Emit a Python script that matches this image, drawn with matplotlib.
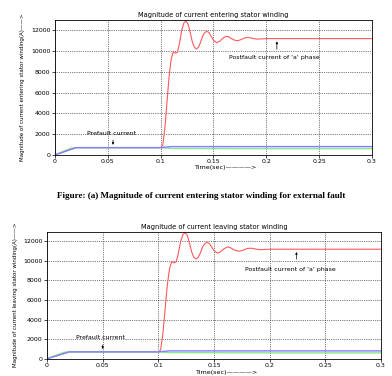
import matplotlib
matplotlib.use("Agg")
import matplotlib.pyplot as plt

# ---- data ----
t_red = [0, 0.02, 0.1, 0.102, 0.104, 0.106, 0.108, 0.110, 0.112, 0.114, 0.116, 0.118,
         0.120, 0.122, 0.124, 0.126, 0.128, 0.130, 0.132, 0.134, 0.136, 0.138, 0.140,
         0.142, 0.144, 0.146, 0.148, 0.150, 0.153, 0.156, 0.159, 0.162, 0.164, 0.167,
         0.170, 0.173, 0.176, 0.180, 0.184, 0.188, 0.192, 0.196, 0.2, 0.25, 0.3]
i_red = [0, 700, 700, 900, 2500, 5000, 7500, 9200, 9950, 9800, 9900, 10800,
         12000, 12700, 12900, 12600, 11800, 10900, 10350, 10200, 10400, 10900, 11500,
         11800, 11900, 11750, 11400, 11050, 10800, 10950, 11250, 11420, 11400, 11200,
         11050, 11000, 11100, 11280, 11300, 11200, 11150, 11180, 11200, 11200, 11200]
t_blue = [0, 0.02, 0.1, 0.11, 0.2, 0.3]
i_blue = [0, 700, 700, 800, 800, 800]
t_green = [0, 0.015, 0.02, 0.1, 0.11, 0.2, 0.3]
i_green = [0, 650, 700, 700, 620, 600, 600]

x_ticks = [0, 0.05, 0.1, 0.15, 0.2, 0.25, 0.3]
x_tick_labels = ["0", "0.05", "0.1", "0.15", "0.2", "0.25", "0.3"]
y_ticks = [0, 2000, 4000, 6000, 8000, 10000, 12000]

titles = ["Magnitude of current entering stator winding",
          "Magnitude of current leaving stator winding"]
ylabels = ["Magnitude of current entering stator winding(A)\u2014\u2014>",
           "Magnitude of current leaving stator winding(A)\u2014\u2014>"]
caption = "Figure: (a) Magnitude of current entering stator winding for external fault"
post_arrow_x = [0.21, 0.224]
post_text = [(0.165, 9400), (0.178, 9100)]
pre_arrow_x = [0.055, 0.05]
pre_text = [(0.030, 2100), (0.026, 2150)]

fig = plt.figure(figsize=(3.92, 3.76), dpi=100)
rects = [[0.140, 0.588, 0.809, 0.359], [0.120, 0.046, 0.852, 0.338]]
label_y = [-0.075, -0.085]

for k in range(2):
    ax = fig.add_axes(rects[k])
    ax.plot(t_red, i_red, color="#ff5a5a", lw=0.8)
    ax.plot(t_green, i_green, color="#8be88b", lw=1.0)
    ax.plot(t_blue, i_blue, color="#8080ff", lw=1.0)
    ax.set_xlim(0, 0.3)
    ax.set_ylim(0, 13000)
    ax.set_xticks(x_ticks)
    ax.set_xticklabels(x_tick_labels)
    ax.set_yticks(y_ticks)
    ax.tick_params(labelsize=4.5, length=2, width=0.5, pad=1.2)
    ax.grid(True, color="black", linestyle=":", linewidth=0.5)
    for s in ax.spines.values():
        s.set_linewidth(0.6)
    ax.set_title(titles[k], fontsize=4.8, pad=2)
    ax.set_xlabel("Time(sec)\u2014\u2014\u2014\u2014>", fontsize=4.6)
    ax.xaxis.set_label_coords(0.536, label_y[k])
    ax.set_ylabel(ylabels[k], fontsize=4.0, labelpad=4)
    # annotations
    ax.text(post_text[k][0], post_text[k][1], "Postfault current of 'a' phase",
            fontsize=4.5, ha="left", va="center")
    ax.annotate("", xy=(post_arrow_x[k], 11200), xytext=(post_arrow_x[k], 9900),
                arrowprops=dict(arrowstyle="-|>", lw=0.5, color="black",
                                mutation_scale=3))
    ax.text(pre_text[k][0], pre_text[k][1], "Prefault current",
            fontsize=4.5, ha="left", va="center")
    ax.annotate("", xy=(pre_arrow_x[k], 700), xytext=(pre_arrow_x[k], 1700),
                arrowprops=dict(arrowstyle="-|>", lw=0.5, color="black",
                                mutation_scale=3))

fig.text(0.513, 0.479, caption, fontsize=6.6, fontweight="bold",
         family="Liberation Serif", ha="center", va="center")

fig.savefig("out.png", dpi=100)
